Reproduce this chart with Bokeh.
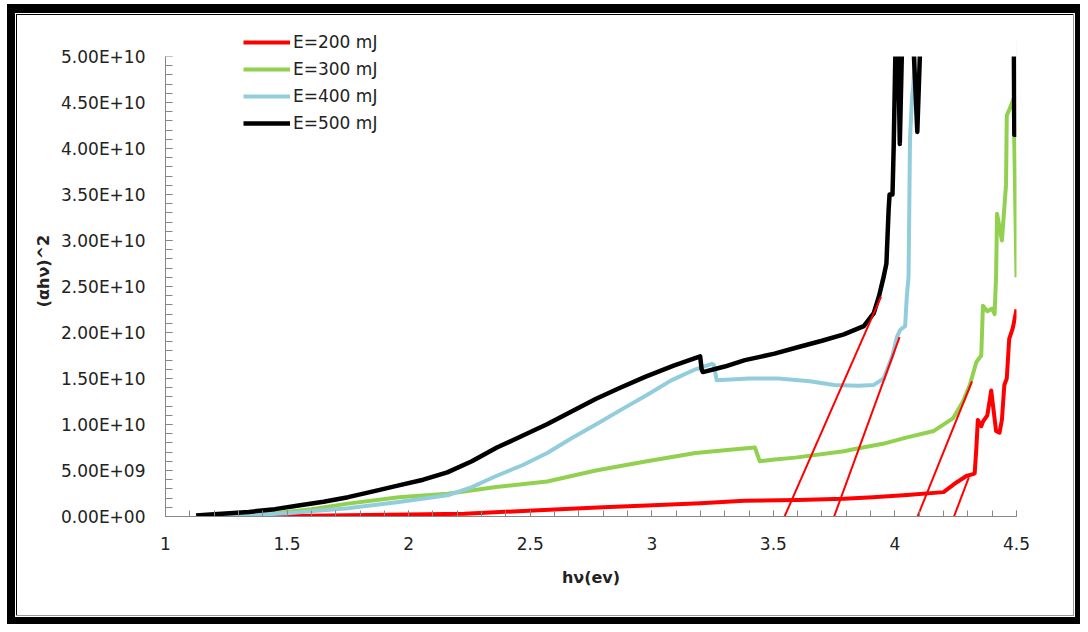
import numpy as np
from bokeh.plotting import figure
from bokeh.models import (Range1d, FixedTicker, CustomJSTickFormatter, Legend, LegendItem,
                          BoxAnnotation)
from bokeh.embed import file_html
from bokeh.resources import INLINE

# ---------------- data ----------------
x_ticks = [1, 1.5, 2, 2.5, 3, 3.5, 4, 4.5]
x_tick_labels = ["1", "1.5", "2", "2.5", "3", "3.5", "4", "4.5"]
y_ticks = [0, 5e9, 1e10, 1.5e10, 2e10, 2.5e10, 3e10, 3.5e10, 4e10, 4.5e10, 5e10]
y_tick_labels = ["0.00E+00", "5.00E+09", "1.00E+10", "1.50E+10", "2.00E+10", "2.50E+10",
                 "3.00E+10", "3.50E+10", "4.00E+10", "4.50E+10", "5.00E+10"]
y_axis_max = 5e10

series_names = ["E=200 mJ", "E=300 mJ", "E=400 mJ", "E=500 mJ"]

# values that run off the top of the axis (above 5.00E+10) are noted as 5.2e10
red_x = [1.445, 1.6, 1.75, 2.0, 2.23, 2.47, 2.6, 2.8, 2.98, 3.2, 3.38, 3.6, 3.79, 3.91, 4.05,
         4.2, 4.253, 4.294, 4.321, 4.328, 4.335, 4.341, 4.355, 4.362, 4.38, 4.396, 4.406,
         4.416, 4.43, 4.44, 4.45, 4.46, 4.47, 4.485, 4.5]
red_y = [0.0, 0.08e9, 0.14e9, 0.22e9, 0.3e9, 0.6e9, 0.75e9, 1.0e9, 1.2e9, 1.45e9, 1.7e9,
         1.8e9, 1.93e9, 2.1e9, 2.35e9, 2.65e9, 3.7e9, 4.4e9, 4.6e9, 4.7e9, 7.5e9, 10.5e9,
         9.8e9, 10.3e9, 11.0e9, 13.7e9, 11.5e9, 9.3e9, 9.1e9, 10.5e9, 14.3e9, 15.0e9,
         19.3e9, 20.5e9, 22.5e9]

green_x = [1.13, 1.3, 1.45, 1.6, 1.75, 1.96, 2.16, 2.36, 2.57, 2.77, 2.98, 3.18, 3.30, 3.424,
           3.444, 3.505, 3.59, 3.79, 3.83, 3.95, 4.05, 4.16, 4.24, 4.28, 4.308, 4.335, 4.355,
           4.362, 4.38, 4.40, 4.41, 4.416, 4.42, 4.44, 4.457, 4.46, 4.475, 4.488, 4.5]
green_y = [0.0, 0.1e9, 0.35e9, 0.8e9, 1.4e9, 2.1e9, 2.47e9, 3.2e9, 3.8e9, 5.0e9, 6.0e9, 6.9e9,
           7.2e9, 7.5e9, 6.0e9, 6.2e9, 6.4e9, 7.1e9, 7.3e9, 7.9e9, 8.6e9, 9.3e9, 10.7e9,
           12.5e9, 14.3e9, 16.8e9, 17.5e9, 22.9e9, 22.3e9, 22.6e9, 22.0e9, 26.1e9, 32.9e9,
           30.0e9, 36.1e9, 43.6e9, 44.5e9, 45.4e9, 26.0e9]

blue_x = [1.13, 1.3, 1.5, 1.75, 1.96, 2.16, 2.26, 2.36, 2.47, 2.57, 2.67, 2.77, 2.88, 2.98,
          3.08, 3.18, 3.247, 3.255, 3.267, 3.4, 3.52, 3.65, 3.75, 3.85, 3.913, 3.954, 3.99,
          4.008, 4.022, 4.042, 4.049, 4.056, 4.062, 4.07, 4.076, 4.085, 4.2]
blue_y = [0.0, 0.1e9, 0.35e9, 0.9e9, 1.58e9, 2.3e9, 3.2e9, 4.4e9, 5.6e9, 6.9e9, 8.5e9,
          10.0e9, 11.7e9, 13.2e9, 14.8e9, 16.0e9, 16.6e9, 16.5e9, 14.8e9, 15.0e9, 15.0e9,
          14.7e9, 14.3e9, 14.2e9, 14.3e9, 15.0e9, 17.5e9, 19.5e9, 20.3e9, 20.7e9, 24.0e9,
          26.0e9, 41.0e9, 45.4e9, 47.0e9, 52.0e9, 52.0e9]

black_x = [1.126, 1.2, 1.343, 1.45, 1.547, 1.65, 1.751, 1.85, 1.955, 2.06, 2.159, 2.26, 2.363,
           2.47, 2.567, 2.67, 2.771, 2.87, 2.975, 3.09, 3.199, 3.205, 3.21, 3.3, 3.383, 3.505,
           3.6, 3.7, 3.79, 3.872, 3.913, 3.935, 3.954, 3.965, 3.974, 3.978, 3.99, 3.995,
           4.003, 4.013, 4.02, 4.03, 4.075, 4.092, 4.105, 4.489, 4.491, 4.5]
black_y = [0.1e9, 0.25e9, 0.5e9, 0.8e9, 1.2e9, 1.6e9, 2.1e9, 2.7e9, 3.36e9, 4.0e9, 4.8e9,
           6.0e9, 7.5e9, 8.8e9, 10.0e9, 11.4e9, 12.8e9, 14.0e9, 15.2e9, 16.4e9, 17.4e9,
           16.0e9, 15.7e9, 16.3e9, 17.0e9, 17.7e9, 18.4e9, 19.1e9, 19.8e9, 20.7e9, 22.1e9,
           24.0e9, 26.1e9, 27.5e9, 33.3e9, 35.0e9, 35.0e9, 40.3e9, 52e9, 52e9, 40.5e9, 52e9,
           52e9, 41.8e9, 52e9, 52e9, 41.5e9, 41.5e9]

# tangent (extrapolation) lines: start / end points
tangent_xs = [[3.546, 3.943], [3.75, 4.019], [4.093, 4.317], [4.243, 4.304]]
tangent_ys = [[0.0, 2.39e10], [0.0, 1.95e10], [0.0, 1.47e10], [0.0, 4.26e9]]

# ---------------- figure ----------------
FONT = "DejaVu Sans"
TXT = "#222222"
AX = "#868686"

# frame: 0 -> 516 px, 5e10 -> 56 px, frame top at 25 px (room for the legend)
p = figure(width=1080, height=624, output_backend="svg", toolbar_location=None,
           x_range=Range1d(1, 4.5), y_range=Range1d(0, y_axis_max * 491 / 460),
           min_border_left=165, min_border_right=64, min_border_top=25,
           min_border_bottom=108)
p.border_fill_alpha = 0
p.background_fill_color = "white"
p.outline_line_color = None
p.xgrid.visible = False
p.ygrid.visible = False
p.styles = {"box-shadow": "inset 7px 4px 0 0 #fff, inset -5px -7px 0 0 #000, "
                          "inset 15px 13px 0 0 #000, inset -6px -8px 0 0 #fff, "
                          "inset 16px 14px 0 0 #fff, inset -7px -9px 0 0 #9a9a9a, "
                          "inset 17px 15px 0 0 #000"}

x_minor = list(np.round(np.arange(1.0, 4.501, 0.1), 2))
y_minor = list(np.arange(0, 5.0001e10, 1e9))

fmt_code = """
let best = 0, bd = Infinity;
for (let i = 0; i < tvals.length; i++) {
  const d = Math.abs(tvals[i] - tick);
  if (d < bd) { bd = d; best = i; }
}
return tlabs[best];
"""
p.xaxis.ticker = FixedTicker(ticks=x_ticks, minor_ticks=x_minor)
p.xaxis.formatter = CustomJSTickFormatter(args=dict(tvals=x_ticks, tlabs=x_tick_labels), code=fmt_code)
p.yaxis.ticker = FixedTicker(ticks=y_ticks, minor_ticks=y_minor)
p.yaxis.formatter = CustomJSTickFormatter(args=dict(tvals=y_ticks, tlabs=y_tick_labels), code=fmt_code)
p.yaxis.bounds = (0, y_axis_max)

for ax in (p.xaxis[0], p.yaxis[0]):
    ax.axis_line_color = AX
    ax.major_tick_line_color = AX
    ax.minor_tick_line_color = AX
    ax.major_tick_out = 0
    ax.minor_tick_out = 0
    ax.major_label_text_font = FONT
    ax.major_label_text_font_size = "17px"
    ax.major_label_text_color = TXT
    ax.axis_label_text_font = FONT
    ax.axis_label_text_font_size = "16px"
    ax.axis_label_text_font_style = "bold"
    ax.axis_label_text_color = TXT

p.xaxis.major_tick_in = 6
p.xaxis.minor_tick_in = 6
p.yaxis.major_tick_in = 7
p.yaxis.minor_tick_in = 7
p.yaxis.major_label_standoff = 20
p.xaxis.major_label_standoff = 20
p.yaxis.axis_label = "(αhν)^2"
p.xaxis.axis_label = "hν(ev)"
p.yaxis.axis_label_standoff = 5
p.xaxis.axis_label_standoff = 15

r_red = p.line(red_x, red_y, line_color="#FF0000", line_width=4, line_join="round")
r_green = p.line(green_x, green_y, line_color="#92D050", line_width=4, line_join="round")
r_blue = p.line(blue_x, blue_y, line_color="#92CDDC", line_width=4, line_join="round")
r_black = p.line(black_x, black_y, line_color="#000000", line_width=4.5, line_join="round")
p.multi_line(tangent_xs, tangent_ys, line_color="#FF0000", line_width=2)

# values above the axis maximum are hidden, as in the plot area of the original
p.add_layout(BoxAnnotation(bottom=y_axis_max, top=y_axis_max * 20, left=0, right=10,
                           fill_color="white", fill_alpha=1.0,
                           line_color=None, level="annotation"))

legend = Legend(items=[LegendItem(label=series_names[0], renderers=[r_red]),
                       LegendItem(label=series_names[1], renderers=[r_green]),
                       LegendItem(label=series_names[2], renderers=[r_blue]),
                       LegendItem(label=series_names[3], renderers=[r_black])],
                location=(78, 383), orientation="vertical", level="overlay",
                glyph_width=47, glyph_height=20, label_height=20, label_standoff=3,
                spacing=7, padding=0, margin=0,
                border_line_color=None, background_fill_alpha=0,
                label_text_font=FONT, label_text_font_size="17px", label_text_color=TXT)
p.add_layout(legend, "center")

open("out.html", "w").write(file_html(p, INLINE))
